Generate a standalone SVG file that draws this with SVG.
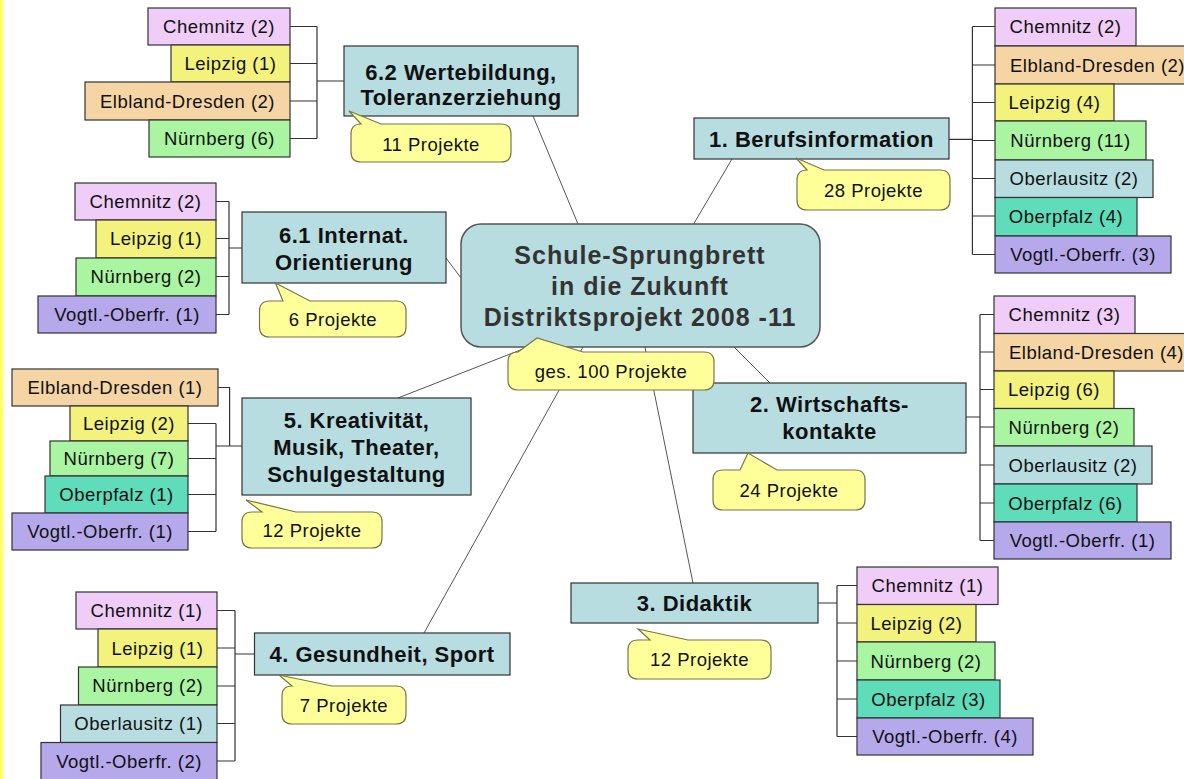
<svg xmlns="http://www.w3.org/2000/svg" width="1184" height="779" viewBox="0 0 1184 779">
<style>
.box{stroke:#333;stroke-width:1.2}
.chem{fill:#F0CCF8}.leip{fill:#F2F27C}.elb{fill:#F6D5A5}.nue{fill:#A9F5A2}.obl{fill:#B7DDE1}.obp{fill:#5FDCBA}.vog{fill:#B5A9EC}
.topic{fill:#B7DDE1;stroke:#333;stroke-width:1.2}
.hub{fill:#B7DDE1;stroke:#555;stroke-width:1.5}
.lt{font-family:'Liberation Sans',Arial,sans-serif;font-size:18.5px;letter-spacing:0.5px;fill:#111;text-anchor:middle}
.tt{font-family:'Liberation Sans',Arial,sans-serif;font-size:22px;letter-spacing:0.5px;font-weight:bold;fill:#111;text-anchor:middle}
.ht{font-family:'Liberation Sans',Arial,sans-serif;font-size:25px;letter-spacing:1px;font-weight:bold;fill:#333;text-anchor:middle}
.co{fill:#FFFF99;stroke:#77774a;stroke-width:1.2}
.ct{font-family:'Liberation Sans',Arial,sans-serif;font-size:18.5px;letter-spacing:0.5px;fill:#111;text-anchor:middle}
.ln{stroke:#555;stroke-width:1;fill:none}
.br{stroke:#333;stroke-width:1.2;fill:none}
</style>
<rect x="0" y="0" width="1184" height="779" fill="#fff"/>
<rect x="0" y="0" width="3.5" height="779" fill="#FFFF66"/>

<g id="connectors">
<path class="ln" d="M533,116L578,224 M732,159L693,225 M446,258L461,278 M398,398L528,347 M424,633L583,347 M693,583L645,347 M770,383L733,346"/>
<path class="br" d="M290,26.5H317 M290,63.5H317 M290,101H317 M290,138.5H317 M317,26.5V138.5 M317,81H344"/>
<path class="br" d="M216,201.5H229 M216,238.5H229 M216,276.5H229 M216,314.5H229 M229,201.5V314.5 M229,248H242"/>
<path class="br" d="M218,387.5H229.6V446 M188,423.5H216 M188,458.5H216 M188,494.5H216 M188,531.5H216 M216,423.5V531.5 M216,446H242"/>
<path class="br" d="M217,610.5H235 M217,648H235 M217,686H235 M217,723.5H235 M217,761H235 M235,610.5V761 M235,654H254.5"/>
<path class="br" d="M818,603H837 M837,585.5V736.5 M837,585.5H857 M837,623H857 M837,661H857 M837,699H857 M837,736.5H857"/>
<path class="br" d="M949,139.3H972.4 M972.4,26.5V254.5 M972.4,26.5H995 M972.4,65H995 M972.4,102.5H995 M972.4,140.5H995 M972.4,178.5H995 M972.4,216H995 M972.4,254.5H995"/>
<path class="br" d="M966,417H980 M980,314.5V540.5 M980,314.5H994 M980,352H994 M980,389.5H994 M980,427H994 M980,465H994 M980,503H994 M980,540.5H994"/>
</g>

<g id="hub"><rect class="hub" x="461" y="224" width="359" height="123" rx="20"/>
<text class="ht" x="640" y="264">Schule-Sprungbrett</text>
<text class="ht" x="640" y="295">in die Zukunft</text>
<text class="ht" x="640" y="326">Distriktsprojekt 2008 -11</text></g>

<g id="topic-62"><rect class="topic" x="344" y="46" width="234" height="70"/>
<text class="tt" x="461" y="80">6.2 Wertebildung,</text><text class="tt" x="461" y="105">Toleranzerziehung</text></g>
<g id="topic-1"><rect class="topic" x="694" y="118" width="255" height="41"/>
<text class="tt" x="821.5" y="146.5">1. Berufsinformation</text></g>
<g id="topic-61"><rect class="topic" x="242" y="212" width="204" height="71"/>
<text class="tt" x="344" y="243">6.1 Internat.</text><text class="tt" x="344" y="270">Orientierung</text></g>
<g id="topic-5"><rect class="topic" x="242" y="398" width="229" height="97"/>
<text class="tt" x="356.5" y="428">5. Kreativität,</text><text class="tt" x="356.5" y="455">Musik, Theater,</text><text class="tt" x="356.5" y="482">Schulgestaltung</text></g>
<g id="topic-4"><rect class="topic" x="254.5" y="633" width="255.5" height="42"/>
<text class="tt" x="382" y="661.5">4. Gesundheit, Sport</text></g>
<g id="topic-3"><rect class="topic" x="571" y="583" width="247" height="40"/>
<text class="tt" x="694.5" y="610.5">3. Didaktik</text></g>
<g id="topic-2"><rect class="topic" x="693" y="383" width="273" height="70"/>
<text class="tt" x="829.5" y="412">2. Wirtschafts-</text><text class="tt" x="829.5" y="439">kontakte</text></g>

<g id="l62-chem"><rect class="box chem" x="148" y="8" width="142" height="37"/><text class="lt" x="219" y="33">Chemnitz (2)</text></g>
<g id="l62-leip"><rect class="box leip" x="171" y="45" width="119" height="37"/><text class="lt" x="230.5" y="70">Leipzig (1)</text></g>
<g id="l62-elb"><rect class="box elb" x="85" y="82" width="205" height="38"/><text class="lt" x="187.5" y="107.5">Elbland-Dresden (2)</text></g>
<g id="l62-nue"><rect class="box nue" x="149" y="120" width="141" height="37"/><text class="lt" x="219.5" y="145">Nürnberg (6)</text></g>

<g id="l61-chem"><rect class="box chem" x="75" y="183" width="141" height="37"/><text class="lt" x="145.5" y="208">Chemnitz (2)</text></g>
<g id="l61-leip"><rect class="box leip" x="96" y="220" width="120" height="38"/><text class="lt" x="156" y="245">Leipzig (1)</text></g>
<g id="l61-nue"><rect class="box nue" x="76" y="258" width="140" height="38"/><text class="lt" x="146" y="283">Nürnberg (2)</text></g>
<g id="l61-vog"><rect class="box vog" x="38" y="296" width="178" height="37"/><text class="lt" x="127" y="321">Vogtl.-Oberfr. (1)</text></g>

<g id="l5-elb"><rect class="box elb" x="12" y="369" width="206" height="37"/><text class="lt" x="115" y="394">Elbland-Dresden (1)</text></g>
<g id="l5-leip"><rect class="box leip" x="70" y="406" width="118" height="35"/><text class="lt" x="129" y="430">Leipzig (2)</text></g>
<g id="l5-nue"><rect class="box nue" x="50" y="441" width="138" height="35"/><text class="lt" x="119" y="465">Nürnberg (7)</text></g>
<g id="l5-obp"><rect class="box obp" x="45" y="476" width="143" height="37"/><text class="lt" x="116.5" y="501">Oberpfalz (1)</text></g>
<g id="l5-vog"><rect class="box vog" x="12" y="513" width="176" height="37"/><text class="lt" x="100" y="538">Vogtl.-Oberfr. (1)</text></g>

<g id="l4-chem"><rect class="box chem" x="76" y="592" width="141" height="37"/><text class="lt" x="146.5" y="617">Chemnitz (1)</text></g>
<g id="l4-leip"><rect class="box leip" x="98" y="629" width="119" height="38"/><text class="lt" x="157.5" y="654.5">Leipzig (1)</text></g>
<g id="l4-nue"><rect class="box nue" x="78.5" y="667" width="138.5" height="38"/><text class="lt" x="147.75" y="691.5">Nürnberg (2)</text></g>
<g id="l4-obl"><rect class="box obl" x="60.5" y="705" width="156.5" height="37.5"/><text class="lt" x="138.75" y="730">Oberlausitz (1)</text></g>
<g id="l4-vog"><rect class="box vog" x="41" y="742.5" width="176" height="38"/><text class="lt" x="129" y="768">Vogtl.-Oberfr. (2)</text></g>

<g id="l3-chem"><rect class="box chem" x="857" y="567" width="141" height="37.5"/><text class="lt" x="927.5" y="592">Chemnitz (1)</text></g>
<g id="l3-leip"><rect class="box leip" x="857" y="604.5" width="119" height="37.5"/><text class="lt" x="916.5" y="630">Leipzig (2)</text></g>
<g id="l3-nue"><rect class="box nue" x="857" y="642" width="138" height="38"/><text class="lt" x="926" y="667.5">Nürnberg (2)</text></g>
<g id="l3-obp"><rect class="box obp" x="857" y="680" width="143" height="38"/><text class="lt" x="928.5" y="705.5">Oberpfalz (3)</text></g>
<g id="l3-vog"><rect class="box vog" x="857" y="718" width="176" height="37"/><text class="lt" x="945" y="743">Vogtl.-Oberfr. (4)</text></g>

<g id="l1-chem"><rect class="box chem" x="995" y="8" width="141" height="38"/><text class="lt" x="1065.5" y="33">Chemnitz (2)</text></g>
<g id="l1-elb"><rect class="box elb" x="995" y="46" width="205" height="38"/><text class="lt" x="1097.5" y="71.5">Elbland-Dresden (2)</text></g>
<g id="l1-leip"><rect class="box leip" x="995" y="84" width="119" height="37"/><text class="lt" x="1054.5" y="109">Leipzig (4)</text></g>
<g id="l1-nue"><rect class="box nue" x="995" y="121" width="151" height="39"/><text class="lt" x="1070.5" y="147">Nürnberg (11)</text></g>
<g id="l1-obl"><rect class="box obl" x="995" y="160" width="158" height="37.5"/><text class="lt" x="1074" y="185">Oberlausitz (2)</text></g>
<g id="l1-obp"><rect class="box obp" x="995" y="197.5" width="142" height="38.5"/><text class="lt" x="1066" y="223">Oberpfalz (4)</text></g>
<g id="l1-vog"><rect class="box vog" x="995" y="236" width="176" height="37"/><text class="lt" x="1083" y="261">Vogtl.-Oberfr. (3)</text></g>

<g id="l2-chem"><rect class="box chem" x="994" y="296" width="141" height="37.5"/><text class="lt" x="1064.5" y="321">Chemnitz (3)</text></g>
<g id="l2-elb"><rect class="box elb" x="994" y="333.5" width="205" height="37.5"/><text class="lt" x="1096.5" y="359">Elbland-Dresden (4)</text></g>
<g id="l2-leip"><rect class="box leip" x="994" y="371" width="120" height="37.5"/><text class="lt" x="1054" y="396">Leipzig (6)</text></g>
<g id="l2-nue"><rect class="box nue" x="994" y="408.5" width="140" height="37.5"/><text class="lt" x="1064" y="434">Nürnberg (2)</text></g>
<g id="l2-obl"><rect class="box obl" x="994" y="446" width="158" height="38"/><text class="lt" x="1073" y="471.5">Oberlausitz (2)</text></g>
<g id="l2-obp"><rect class="box obp" x="994" y="484" width="143" height="38"/><text class="lt" x="1065.5" y="509.5">Oberpfalz (6)</text></g>
<g id="l2-vog"><rect class="box vog" x="994" y="522" width="177" height="37"/><text class="lt" x="1082.5" y="547">Vogtl.-Oberfr. (1)</text></g>

<g id="call-62"><path class="co" d="M361,124 L349,111 L381,124 L501,124 Q511,124 511,134 L511,152 Q511,162 501,162 L361,162 Q351,162 351,152 L351,134 Q351,124 361,124 Z"/><text class="ct" x="431" y="150.5">11 Projekte</text></g>
<g id="call-1"><path class="co" d="M807,170 L796,158 L824,170 L940,170 Q950,170 950,180 L950,200 Q950,210 940,210 L807,210 Q797,210 797,200 L797,180 Q797,170 807,170 Z"/><text class="ct" x="873.5" y="196.5">28 Projekte</text></g>
<g id="call-61"><path class="co" d="M283,301 L275.5,283 L310,301 L396,301 Q406,301 406,311 L406,327 Q406,337 396,337 L269.5,337 Q259.5,337 259.5,327 L259.5,311 Q259.5,301 269.5,301 Z"/><text class="ct" x="333" y="325.5">6 Projekte</text></g>
<g id="call-2"><path class="co" d="M740,470 L748,453 L777,470 L855,470 Q865,470 865,480 L865,500 Q865,510 855,510 L723,510 Q713,510 713,500 L713,480 Q713,470 723,470 Z"/><text class="ct" x="789" y="496.5">24 Projekte</text></g>
<g id="call-5"><path class="co" d="M262,512 L246,500 L296,512 L372,512 Q382,512 382,522 L382,538 Q382,548 372,548 L252,548 Q242,548 242,538 L242,522 Q242,512 252,512 Z"/><text class="ct" x="312" y="536.5">12 Projekte</text></g>
<g id="call-4"><path class="co" d="M292,686 L279,675 L332,686 L396,686 Q406,686 406,696 L406,714 Q406,724 396,724 L292,724 Q282,724 282,714 L282,696 Q282,686 292,686 Z"/><text class="ct" x="344" y="711.5">7 Projekte</text></g>
<g id="call-3"><path class="co" d="M650,640 L638,629 L688,640 L761,640 Q771,640 771,650 L771,669 Q771,679 761,679 L638,679 Q628,679 628,669 L628,650 Q628,640 638,640 Z"/><text class="ct" x="699.5" y="665.5">12 Projekte</text></g>
<g id="call-hub"><path class="co" d="M518,352 L537,338 L583,352 L704,352 Q714,352 714,362 L714,380 Q714,390 704,390 L518,390 Q508,390 508,380 L508,362 Q508,352 518,352 Z"/><text class="ct" x="611" y="377.5">ges. 100 Projekte</text></g>
</svg>
